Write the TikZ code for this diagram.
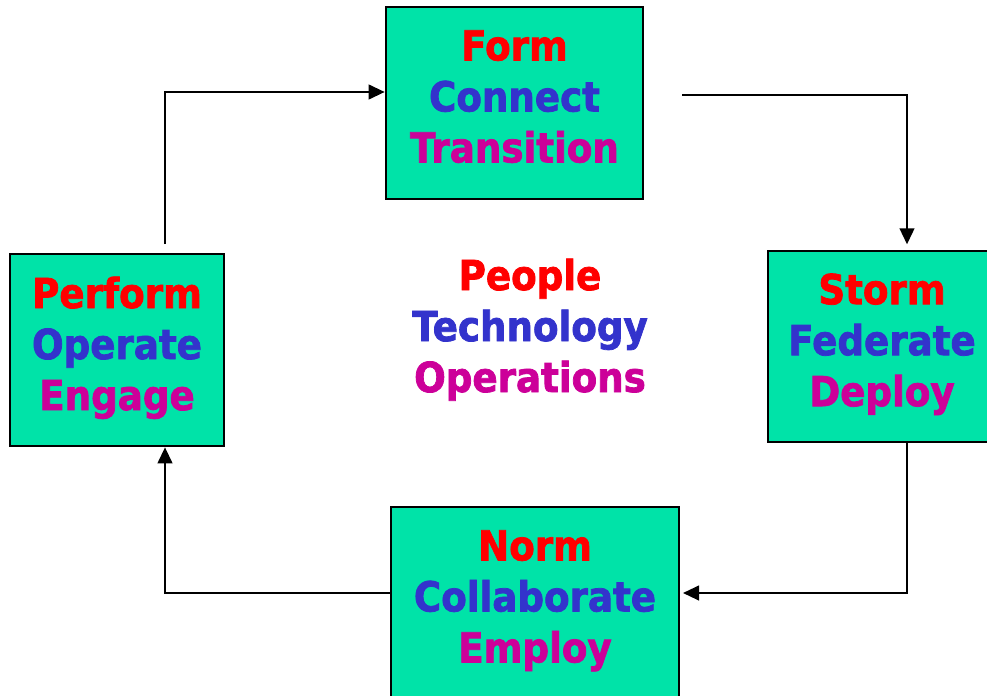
\documentclass[tikz,border=0pt]{standalone}
\usepackage{fontspec}
\setmainfont{DejaVu Sans}[BoldFeatures={FakeStretch=0.9,FakeBold=1.8}]
\usetikzlibrary{arrows.meta}
\definecolor{boxfill}{RGB}{0,227,168}
\definecolor{tred}{RGB}{255,0,0}
\definecolor{tblue}{RGB}{51,51,204}
\definecolor{tmag}{RGB}{204,0,153}
\newcommand{\three}[3]{\textcolor{tred}{\vphantom{Ay}#1}\\\textcolor{tblue}{\vphantom{Ay}#2}\\\textcolor{tmag}{\vphantom{Ay}\rule[-10pt]{0pt}{10pt}#3}}
\begin{document}
\begin{tikzpicture}[x=0.75pt,y=-0.75pt,
  stagebox/.style={draw=black,line width=2pt,fill=boxfill,rectangle,inner sep=0pt,
    align=center,font=\fontsize{31}{38.25}\selectfont\bfseries},
  bigtext/.style={align=center,inner sep=0pt,font=\fontsize{31}{38.25}\selectfont\bfseries},
  arr/.style={line width=1.6pt,-{Triangle[length=12pt,width=11pt]}}]
\useasboundingbox (0,0) rectangle (987,695);
\clip (0,0) rectangle (987,695);
\node[stagebox,minimum width=257*0.75pt,minimum height=192*0.75pt] (form) at (514.5,103) {\three{Form}{Connect}{Transition}};
\node[stagebox,minimum width=228*0.75pt,minimum height=191*0.75pt] (storm) at (882,346.5) {\three{Storm}{Federate}{Deploy}};
\node[stagebox,minimum width=288*0.75pt,minimum height=192*0.75pt] (norm) at (535,603) {\three{Norm}{Collaborate}{Employ}};
\node[stagebox,minimum width=214*0.75pt,minimum height=192*0.75pt] (perform) at (117,350) {\three{Perform}{Operate}{Engage}};
\node[bigtext] (center) at (530,332) {\three{People}{Technology}{Operations}};
\coordinate (p1) at (165,244);
\coordinate (f1) at (682,95);
\draw[arr] (p1) |- ([yshift=8.25pt]form.west);
\draw[arr,shorten >=4pt] (f1) -| (storm.north -| 907,0);
\draw[arr,shorten >=2pt] (storm.south -| 907,0) |- (norm.east |- 0,593);
\draw[arr] (norm.west |- 0,593) -| (perform.south -| 165,0);
\end{tikzpicture}
\end{document}
